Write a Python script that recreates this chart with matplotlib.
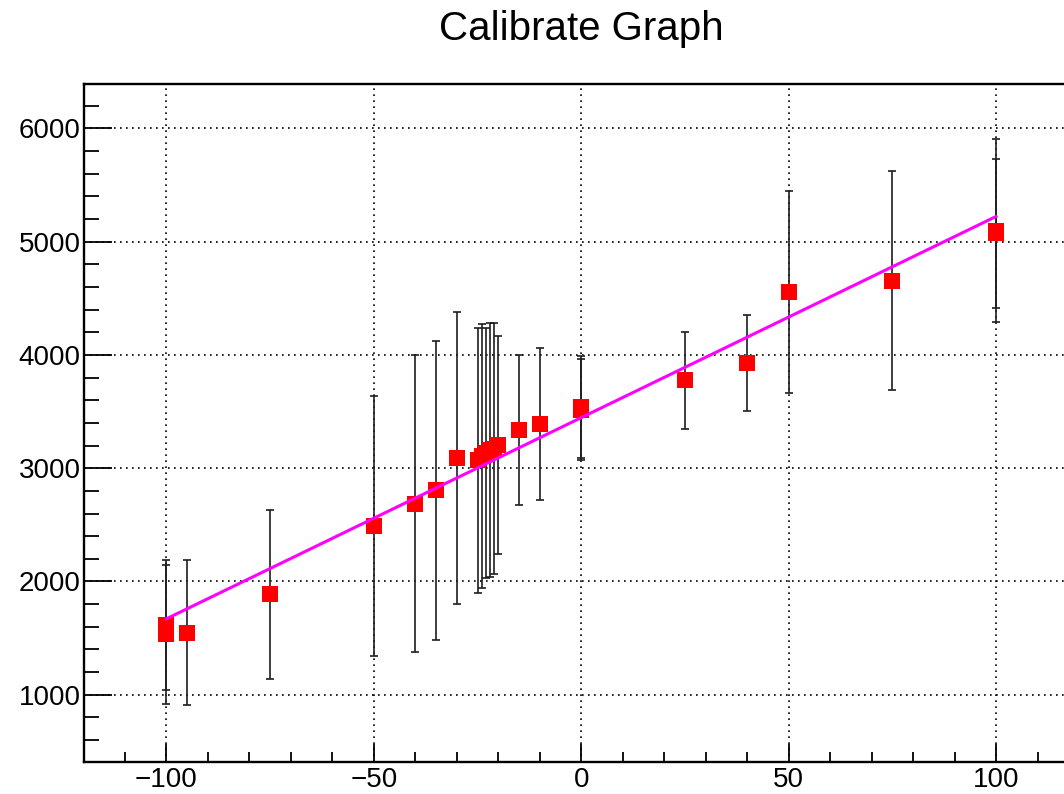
import matplotlib
matplotlib.use("Agg")
import matplotlib.pyplot as plt
from matplotlib.ticker import MultipleLocator
import numpy as np

plt.rcParams['font.family'] = ['Liberation Sans', 'DejaVu Sans']

# Calibration measurements: x setting, measured value, uncertainty
x_vals = [-100, -100, -95, -75, -50, -40, -35, -30, -25, -24, -23, -22, -21, -20,
          -15, -10, 0, 0, 25, 40, 50, 75, 100, 100]
y_vals = [1615, 1534, 1549, 1888, 2489, 2688, 2806, 3090, 3068, 3110, 3135, 3160,
          3173, 3204, 3340, 3393, 3541, 3515, 3774, 3928, 4555, 4653, 5096, 5071]
y_errs = [571, 614, 637, 747, 1144, 1307, 1320, 1285, 1170, 1163, 1100, 1120,
          1104, 961, 662, 671, 447, 445, 424, 420, 888, 967, 807, 655]

# Linear fit parameters (p0 + p1 * x)
fit_p0 = 3446.0
fit_p1 = 17.75
fit_range = [-100, 100]

x_major = [-100, -50, 0, 50, 100]
y_major = [1000, 2000, 3000, 4000, 5000, 6000]

fig = plt.figure(figsize=(10.64, 7.94), dpi=100)
ax = fig.add_axes([0.0785, 0.0407, 0.9356, 0.8535])

ax.errorbar(x_vals, y_vals, yerr=y_errs, fmt='none', ecolor='#1e1e1e',
            elinewidth=1.2, capsize=2.6, capthick=1.2, zorder=2)
ax.plot(x_vals, y_vals, linestyle='none', marker='s', markersize=11,
        color='#ff0000', markeredgewidth=0, zorder=3)

xf = np.array(fit_range, dtype=float)
ax.plot(xf, fit_p0 + fit_p1 * xf, color='#ff00ff', linewidth=2.2, zorder=4)

ax.set_xlim(-120, 120)
ax.set_ylim(410, 6390)
ax.set_xticks(x_major)
ax.set_yticks(y_major)
ax.set_xticklabels([f"\u2212{abs(v)}" if v < 0 else str(v) for v in x_major])
ax.xaxis.set_minor_locator(MultipleLocator(10))
ax.yaxis.set_minor_locator(MultipleLocator(200))

ax.grid(True, which='major', color='black', linestyle=(0, (1, 2.6)), linewidth=1.2)
ax.set_axisbelow(True)

ax.tick_params(axis='both', which='both', direction='in', color='black', width=1.3,
               labelsize=20, top=False, right=False)
ax.tick_params(axis='y', which='major', length=20, pad=2)
ax.tick_params(axis='y', which='minor', length=11)
ax.tick_params(axis='x', which='major', length=13, pad=4)
ax.tick_params(axis='x', which='minor', length=7.5)

for s in ax.spines.values():
    s.set_linewidth(1.7)
    s.set_color('black')

fig.text(0.5465, 0.963, "Calibrate Graph", ha='center', va='center', fontsize=29)

fig.savefig("out.png", dpi=100)
